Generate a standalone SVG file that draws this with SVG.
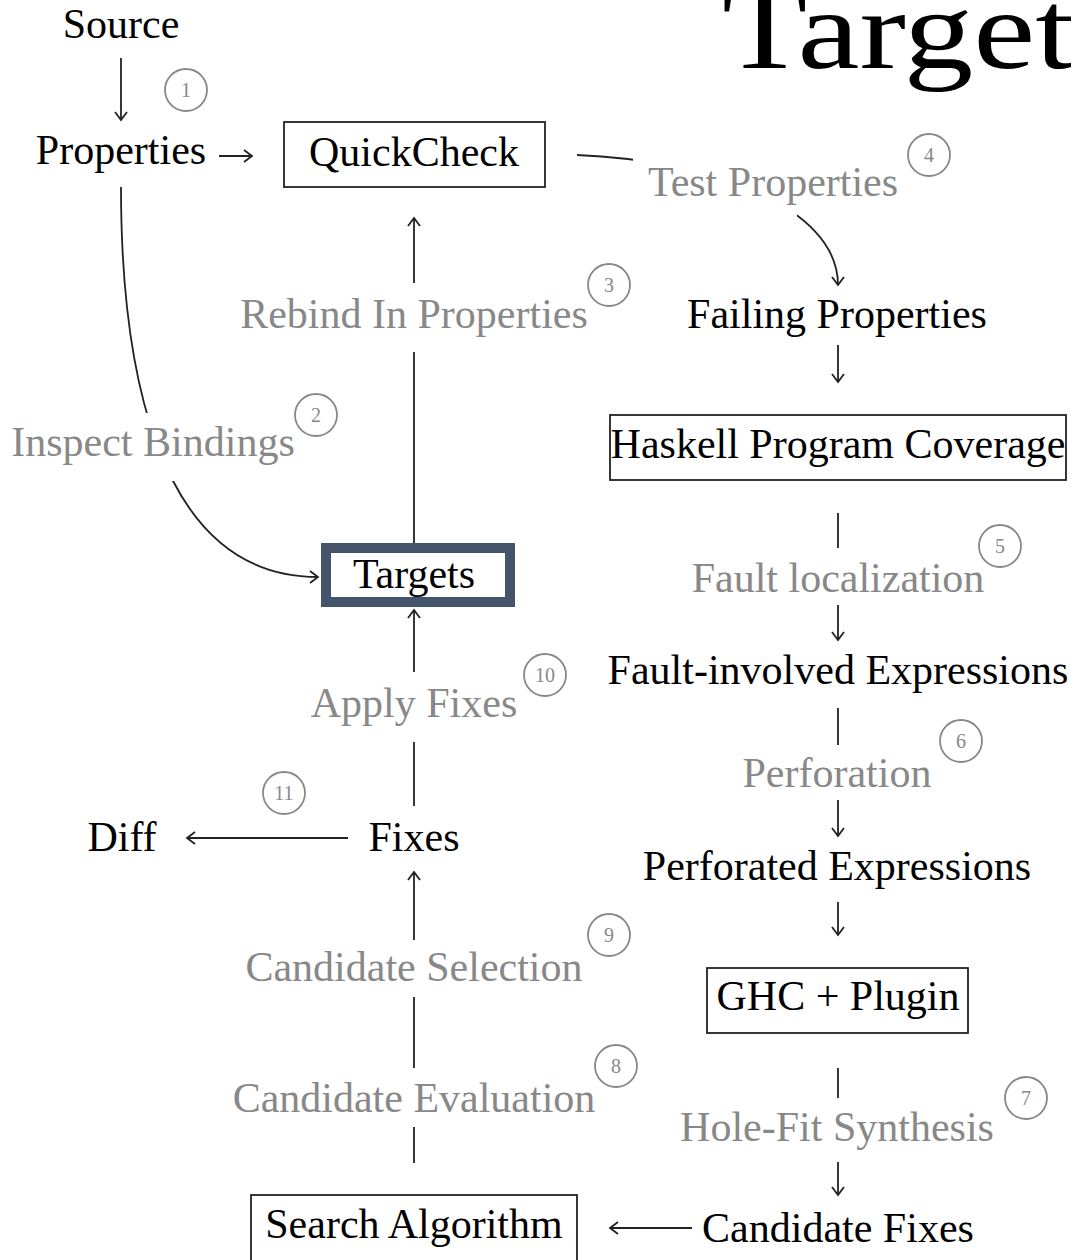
<svg xmlns="http://www.w3.org/2000/svg" width="1071" height="1260" viewBox="0 0 1071 1260">
<defs>
<style>
text{font-family:"Liberation Serif","Times New Roman",serif;}
.t{font-size:42px;fill:#000;text-anchor:middle;}
.g{font-size:42px;fill:#888;text-anchor:middle;}
.n{font-size:20px;fill:#888;text-anchor:middle;}
.c{fill:none;stroke:#888;stroke-width:1.8;}
.box{fill:#fff;stroke:#222;stroke-width:1.8;}
.ln{fill:none;stroke:#222;stroke-width:1.8;}
.ar{marker-end:url(#ah);}
</style>
<marker id="ah" markerUnits="userSpaceOnUse" markerWidth="20" markerHeight="20" viewBox="-10 -10 20 20" refX="0" refY="0" orient="auto">
<path d="M-8,-6 L0,0 L-8,6" fill="none" stroke="#222" stroke-width="1.8"/>
</marker>
<mask id="gaps" maskUnits="userSpaceOnUse" x="0" y="0" width="1071" height="1260">
<rect x="0" y="0" width="1071" height="1260" fill="#fff"/>
<rect x="633" y="140" width="164" height="90" fill="#000"/>
<rect x="90" y="413" width="120" height="68" fill="#000"/>
</mask>
</defs>
<rect width="1071" height="1260" fill="#fff"/>
<text x="722" y="68" font-size="112" textLength="352" lengthAdjust="spacingAndGlyphs" fill="#000">Target</text>

<g id="connectors">
<line class="ln ar" x1="121" y1="58" x2="121" y2="120"/>
<line class="ln ar" x1="219" y1="156" x2="252" y2="156"/>
<path class="ln ar" mask="url(#gaps)" d="M577,155 C705,160 838,205 838,285"/>
<path class="ln ar" mask="url(#gaps)" d="M121,187 C121,350 150,577 318,577"/>
<line class="ln ar" x1="414" y1="283" x2="414" y2="218"/>
<line class="ln" x1="414" y1="543" x2="414" y2="352"/>
<line class="ln ar" x1="838" y1="345" x2="838" y2="382"/>
<line class="ln" x1="838" y1="513" x2="838" y2="548"/>
<line class="ln ar" x1="838" y1="605" x2="838" y2="640"/>
<line class="ln" x1="838" y1="708" x2="838" y2="745"/>
<line class="ln ar" x1="838" y1="800" x2="838" y2="836"/>
<line class="ln ar" x1="838" y1="902" x2="838" y2="935"/>
<line class="ln" x1="838" y1="1068" x2="838" y2="1098"/>
<line class="ln ar" x1="838" y1="1162" x2="838" y2="1195"/>
<line class="ln ar" x1="692" y1="1228" x2="610" y2="1228"/>
<line class="ln" x1="414" y1="1163" x2="414" y2="1127"/>
<line class="ln" x1="414" y1="1068" x2="414" y2="997"/>
<line class="ln ar" x1="414" y1="940" x2="414" y2="872"/>
<line class="ln ar" x1="348" y1="838" x2="187" y2="838"/>
<line class="ln" x1="414" y1="806" x2="414" y2="742"/>
<line class="ln ar" x1="414" y1="672" x2="414" y2="610"/>
</g>

<g id="source"><text class="t" x="121" y="38">Source</text></g>
<g id="step1"><circle class="c" cx="186" cy="90" r="21"/><text class="n" x="186" y="97">1</text></g>
<g id="properties"><text class="t" x="121" y="164">Properties</text></g>
<g id="quickcheck"><rect class="box" x="284" y="122" width="261" height="65"/><text class="t" x="414" y="166">QuickCheck</text></g>
<g id="test-properties"><text class="g" x="773" y="196">Test Properties</text></g>
<g id="step4"><circle class="c" cx="929" cy="155" r="21"/><text class="n" x="929" y="162">4</text></g>
<g id="rebind"><text class="g" x="414" y="328">Rebind In Properties</text></g>
<g id="step3"><circle class="c" cx="609" cy="285" r="21"/><text class="n" x="609" y="292">3</text></g>
<g id="failing"><text class="t" x="837" y="328">Failing Properties</text></g>
<g id="inspect"><text class="g" x="153" y="456">Inspect Bindings</text></g>
<g id="step2"><circle class="c" cx="316" cy="415" r="21"/><text class="n" x="316" y="422">2</text></g>
<g id="hpc"><rect class="box" x="610" y="415" width="456" height="65"/><text class="t" x="838" y="458">Haskell Program Coverage</text></g>
<g id="targets"><rect x="326" y="548" width="184" height="54" fill="#fff" stroke="#44546A" stroke-width="10"/><text class="t" x="414" y="588">Targets</text></g>
<g id="fault-loc"><text class="g" x="838" y="592">Fault localization</text></g>
<g id="step5"><circle class="c" cx="1000" cy="546" r="21"/><text class="n" x="1000" y="553">5</text></g>
<g id="fault-expr"><text class="t" x="838" y="684">Fault-involved Expressions</text></g>
<g id="apply-fixes"><text class="g" x="414" y="717">Apply Fixes</text></g>
<g id="step10"><circle class="c" cx="545" cy="675" r="21"/><text class="n" x="545" y="682">10</text></g>
<g id="perforation"><text class="g" x="837" y="787">Perforation</text></g>
<g id="step6"><circle class="c" cx="961" cy="741" r="21"/><text class="n" x="961" y="748">6</text></g>
<g id="step11"><circle class="c" cx="284" cy="793" r="21"/><text class="n" x="284" y="800">11</text></g>
<g id="diff"><text class="t" x="122" y="851">Diff</text></g>
<g id="fixes"><text class="t" x="414" y="851">Fixes</text></g>
<g id="perforated"><text class="t" x="837" y="880">Perforated Expressions</text></g>
<g id="cand-sel"><text class="g" x="414" y="981">Candidate Selection</text></g>
<g id="step9"><circle class="c" cx="609" cy="935" r="21"/><text class="n" x="609" y="942">9</text></g>
<g id="ghc"><rect class="box" x="707" y="968" width="261" height="65"/><text class="t" x="838" y="1010">GHC + Plugin</text></g>
<g id="cand-eval"><text class="g" x="414" y="1112">Candidate Evaluation</text></g>
<g id="step8"><circle class="c" cx="616" cy="1066" r="21"/><text class="n" x="616" y="1073">8</text></g>
<g id="holefit"><text class="g" x="837" y="1141">Hole-Fit Synthesis</text></g>
<g id="step7"><circle class="c" cx="1026" cy="1098" r="21"/><text class="n" x="1026" y="1105">7</text></g>
<g id="search"><rect class="box" x="251" y="1195" width="326" height="68"/><text class="t" x="414" y="1238">Search Algorithm</text></g>
<g id="cand-fixes"><text class="t" x="838" y="1242">Candidate Fixes</text></g>
</svg>
